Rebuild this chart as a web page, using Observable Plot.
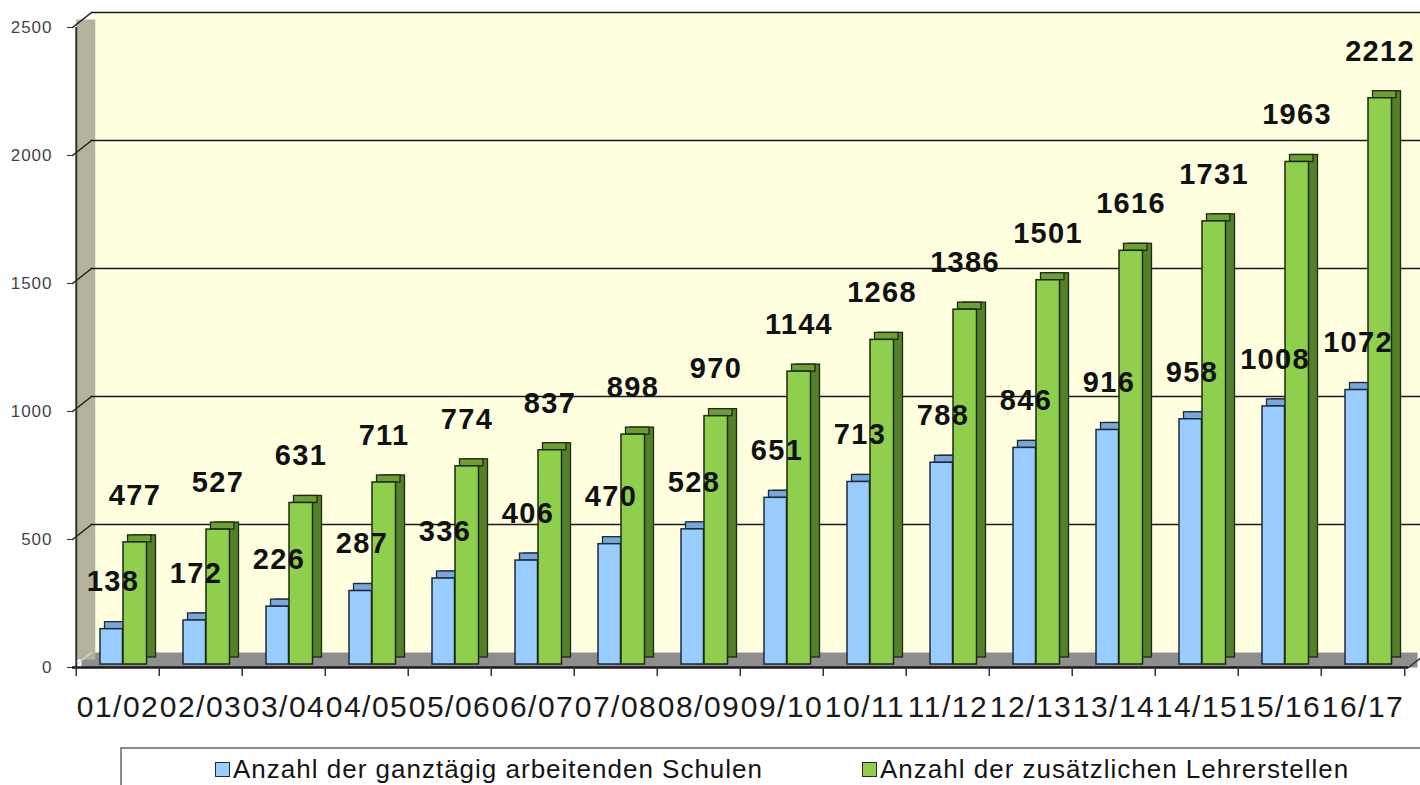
<!DOCTYPE html>
<html>
<head>
<meta charset="utf-8">
<script src="https://cdn.jsdelivr.net/npm/d3@7"></script>
<script src="https://cdn.jsdelivr.net/npm/@observablehq/plot@0.6"></script>
<style>
  html, body { margin: 0; padding: 0; background: #ffffff; }
  body { position: relative; width: 1420px; height: 785px; overflow: hidden; font-family: Arial, "Liberation Sans", sans-serif; }
  #chart svg { display: block; }
  g[aria-label="x-axis tick label"] text { letter-spacing: 1.5px; }
  g[aria-label="y-axis tick label"] text { letter-spacing: 1px; }
  g[aria-label="text"] text { letter-spacing: 1.3px; }
  #legend { position: absolute; left: 120px; top: 747px; width: 1400px; height: 60px;
            border-top: 2px solid #8c8c8c; border-left: 2px solid #8c8c8c; }
  .item { position: absolute; top: 4px; font-size: 26px; letter-spacing: 1px; color: #151515; white-space: nowrap; line-height: 32px; }
  .sw { display: inline-block; width: 13px; height: 13px; border: 1.5px solid #2a2a2a; margin-right: 3px; vertical-align: 1px; }
</style>
</head>
<body>
<div id="chart"></div>
<div id="legend"></div>
<script>
// ---- data ----
const categories = ["01/02","02/03","03/04","04/05","05/06","06/07","07/08","08/09","09/10","10/11","11/12","12/13","13/14","14/15","15/16","16/17"];
const schulen = [138,172,226,287,336,406,470,528,651,713,788,846,916,958,1008,1072];
const lehrer  = [477,527,631,711,774,837,898,970,1144,1268,1386,1501,1616,1731,1963,2212];
const yTicks = [0,500,1000,1500,2000,2500];
const seriesNames = ["Anzahl der ganztägig arbeitenden Schulen", "Anzahl der zusätzlichen Lehrerstellen"];

// ---- layout / style ----
const W = 1420, H = 730, mL = 72, mR = 12, mT = 27, mB = 63;
const bw = (W - mL - mR) / categories.length;
const depthX = 19, depthY = -15;   // back wall offset
const bx = 9, by = -7;             // bar depth
const blue = {front: "#99ccff", top: "#7ba6d8", side: "#5c80b0", stroke: "#1d2a3a"};
const green = {front: "#8fcf4d", top: "#6e9e3a", side: "#54802a", stroke: "#1c2a0e"};
const rows = categories.map((c, i) => ({cat: c, schulen: schulen[i], lehrer: lehrer[i]}));

const connector = {draw(ctx, l) { ctx.moveTo(0, 0); ctx.lineTo(0, -l); }};
const connLen = Math.hypot(depthX, depthY);
const connRot = Math.atan2(depthX, -depthY) * 180 / Math.PI;

function bars3d(key, c, insL, insR) {
  return [
    Plot.barY(rows, {x: "cat", y: key, insetLeft: insL, insetRight: insR, dx: bx, dy: -3 + by,
      fill: c.side, stroke: c.stroke, strokeWidth: 1.3}),
    Plot.barY(rows, {x: "cat", y1: key, y2: key, insetLeft: insL + bx / 2, insetRight: insR - bx / 2,
      insetTop: by, insetBottom: 0, dy: -3, fill: c.top, stroke: c.stroke, strokeWidth: 1.3}),
    Plot.barY(rows, {x: "cat", y: key, insetLeft: insL, insetRight: insR, dy: -3,
      fill: c.front, stroke: c.stroke, strokeWidth: 1.5})
  ];
}

const chart = Plot.plot({
  width: W, height: H,
  marginLeft: mL, marginRight: mR, marginTop: mT, marginBottom: mB,
  style: {fontFamily: "Arial, 'Liberation Sans', sans-serif", background: "transparent", overflow: "visible"},
  x: {domain: categories, padding: 0},
  y: {domain: [0, 2500]},
  marks: [
    // back wall
    Plot.rect([0], {y1: () => 0, y2: () => 2500, fill: "#ffffe0", dx: depthX, dy: depthY}),
    // floor
    Plot.ruleY([0], {dx: depthX / 2, dy: depthY / 2, stroke: "#8e8e8e", strokeWidth: Math.abs(depthY)}),
    // side wall
    Plot.ruleX([categories[0]], {x: d => d, dx: -bw / 2 + depthX / 2, dy: depthY / 2, y1: () => 0, y2: () => 2500,
      stroke: "#b4b19c", strokeWidth: depthX}),
    // gridlines on back wall
    Plot.ruleY(yTicks.slice(1), {dx: depthX, dy: depthY, stroke: "#1a1a1a", strokeWidth: 1.5}),
    // connectors from axis to wall
    Plot.vector(yTicks.slice(1), {y: d => d, frameAnchor: "left", length: connLen, rotate: connRot, anchor: "start",
      shape: connector, stroke: "#1a1a1a", strokeWidth: 1.5}),
    Plot.vector([0], {y: d => d, frameAnchor: "left", length: connLen, rotate: connRot, anchor: "start",
      shape: connector, stroke: "#d8d8d0", strokeWidth: 1.2}),
    // y axis line
    Plot.ruleX([categories[0]], {x: d => d, dx: -bw / 2, y1: () => 0, y2: () => 2500, stroke: "#333", strokeWidth: 2}),
    // bars
    ...bars3d("schulen", blue, 24, 36.5),
    ...bars3d("lehrer", green, 47, 12.5),
    // value labels
    Plot.text(rows, {x: "cat", y: "schulen", text: d => String(d.schulen), dx: -5, dy: -50,
      fontSize: 29, fontWeight: "bold", fill: "#111"}),
    Plot.text(rows, {x: "cat", y: "lehrer", text: d => String(d.lehrer), dx: 17, dy: -50,
      fontSize: 29, fontWeight: "bold", fill: "#111"}),
    // x axis line + right slant
    Plot.ruleY([0], {stroke: "#1a1a1a", strokeWidth: 2.5}),
    Plot.vector([0], {y: d => d, frameAnchor: "right", length: connLen, rotate: connRot, anchor: "start",
      shape: connector, stroke: "#333", strokeWidth: 1.5}),
    // boundary ticks
    Plot.ruleX(categories, {x: d => d, dx: -bw / 2, y1: () => 0, y2: () => -35, stroke: "#333", strokeWidth: 1.5}),
    Plot.ruleX([categories[categories.length - 1]], {x: d => d, dx: bw / 2, y1: () => 0, y2: () => -35, stroke: "#333", strokeWidth: 1.5}),
    Plot.axisX({tickSize: 0, tickPadding: 28, fontSize: 30, fill: "#1a1a1a", label: null}),
    Plot.axisY({ticks: yTicks, tickSize: 5, tickPadding: 15, fontSize: 17, tickFormat: d3.format("d"), fill: "#444", stroke: "#333", label: null})
  ]
});
document.getElementById("chart").appendChild(chart);

// legend
const legend = document.getElementById("legend");
[[seriesNames[0], blue.front, 93], [seriesNames[1], green.front, 740]].forEach(([name, col, left]) => {
  const it = document.createElement("div");
  it.className = "item";
  it.style.left = left + "px";
  const sw = document.createElement("span");
  sw.className = "sw";
  sw.style.background = col;
  it.appendChild(sw);
  it.appendChild(document.createTextNode(name));
  legend.appendChild(it);
});
</script>
</body>
</html>
